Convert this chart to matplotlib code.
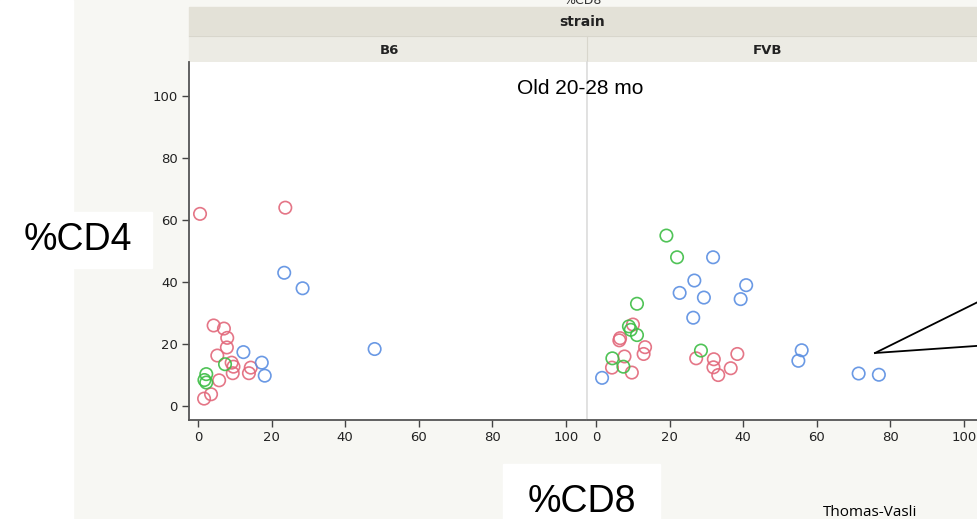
import matplotlib.pyplot as plt
from matplotlib.patches import Rectangle

W, H = 977, 519

# %CD8 (x) vs %CD4 (y), per strain, three groups each
b6_red_x = [0.5, 23.7, 4.2, 7.0, 7.9, 7.8, 5.2, 9.1, 9.6, 9.4, 14.3, 13.8, 5.7, 3.5, 1.6]
b6_red_y = [62.0, 64.0, 26.0, 25.0, 22.0, 18.9, 16.3, 14.0, 12.7, 10.6, 12.4, 10.6, 8.3, 3.8, 2.4]
b6_green_x = [7.3, 2.2, 1.7, 2.2]
b6_green_y = [13.5, 10.3, 8.4, 7.6]
b6_blue_x = [23.4, 28.4, 12.3, 17.3, 18.1, 48.0]
b6_blue_y = [43.0, 38.0, 17.4, 14.0, 9.8, 18.4]

fvb_red_x = [10.0, 6.5, 6.3, 13.3, 12.9, 7.7, 4.3, 9.7, 27.2, 32.0, 31.9, 33.2, 36.6, 38.4]
fvb_red_y = [26.3, 21.9, 21.2, 19.0, 16.8, 16.0, 12.4, 10.8, 15.4, 15.1, 12.5, 10.0, 12.2, 16.8]
fvb_green_x = [19.1, 22.0, 11.1, 8.9, 9.4, 11.1, 4.4, 7.4, 28.5]
fvb_green_y = [55.0, 48.0, 33.0, 25.7, 24.6, 22.9, 15.4, 12.7, 17.9]
fvb_blue_x = [31.8, 26.7, 22.7, 29.3, 40.8, 39.3, 26.4, 1.6, 55.9, 55.0, 71.4, 76.9]
fvb_blue_y = [48.0, 40.5, 36.5, 35.0, 39.0, 34.5, 28.5, 9.1, 18.0, 14.6, 10.5, 10.1]

ticks = [0, 20, 40, 60, 80, 100]
colors = {'red': '#e2677a', 'green': '#3dbd45', 'blue': '#5a8ee2'}

fig = plt.figure(figsize=(W / 100, H / 100), dpi=100)
fig.patch.set_facecolor('#f7f7f3')


def px_axes(z):
    # full-figure axes in pixel units, y pointing down
    a = fig.add_axes([0, 0, 1, 1], zorder=z)
    a.set_xlim(0, W)
    a.set_ylim(H, 0)
    a.axis('off')
    a.patch.set_alpha(0)
    return a


bg = px_axes(0)
bg.add_patch(Rectangle((0, 0), 73, H, color='white'))
bg.add_patch(Rectangle((0, 212), 152, 56, color='white'))
bg.add_patch(Rectangle((503, 464), 157, 60, color='white'))
# strip header
bg.add_patch(Rectangle((189, 7), W, 29, color='#e3e1d7'))
bg.add_patch(Rectangle((189, 36), W, 27, color='#ecebe4'))
bg.plot([189, W], [36, 36], color='#d8d6cc', lw=0.8)
bg.plot([587, 587], [36, 63], color='#d8d6cc', lw=0.8)
bg.text(582, 0, '%CD8', ha='center', va='center', fontsize=9, color='#333333')
bg.text(582, 22, 'strain', ha='center', va='center', fontsize=10,
        fontweight='bold', color='#222222')
bg.text(389, 50, 'B6', ha='center', va='center', fontsize=9.5,
        fontweight='semibold', color='#222222')
bg.text(768, 50, 'FVB', ha='center', va='center', fontsize=9.5,
        fontweight='semibold', color='#222222')
bg.text(78, 240, '%CD4', ha='center', va='center', fontsize=27, family='Liberation Sans')
bg.text(582, 502, '%CD8', ha='center', va='center', fontsize=27, family='Liberation Sans')
bg.text(823, 512, 'Thomas-Vasli', ha='left', va='center', fontsize=11, family='Open Sans')

panels = [
    ('B6', [(b6_red_x, b6_red_y, 'red'), (b6_green_x, b6_green_y, 'green'),
            (b6_blue_x, b6_blue_y, 'blue')]),
    ('FVB', [(fvb_red_x, fvb_red_y, 'red'), (fvb_green_x, fvb_green_y, 'green'),
             (fvb_blue_x, fvb_blue_y, 'blue')]),
]
lefts = [189, 587]
pw = 397
for i, (name, groups) in enumerate(panels):
    ax = fig.add_axes([lefts[i] / W, (H - 420) / H, pw / W, 358 / H], zorder=5)
    ax.set_facecolor('white')
    for xs, ys, c in groups:
        ax.scatter(xs, ys, s=80, facecolors='none', edgecolors=colors[c],
                   linewidths=1.2, alpha=0.9, clip_on=False)
    ax.set_xlim(-2.5, 105.5)
    ax.set_ylim(-4.5, 111)
    ax.set_xticks(ticks)
    ax.set_yticks(ticks)
    ax.tick_params(direction='out', length=5, width=1, color='#444444',
                   labelsize=9.5, labelcolor='#222222', pad=3)
    for s in ['top', 'right']:
        ax.spines[s].set_visible(False)
    ax.spines['bottom'].set_color('#555555')
    ax.spines['bottom'].set_linewidth(1.3)
    if i == 0:
        ax.spines['left'].set_color('#555555')
        ax.spines['left'].set_linewidth(1.3)
    else:
        ax.spines['left'].set_color('#dddddd')
        ax.spines['left'].set_linewidth(1.2)
        ax.tick_params(axis='y', left=False, labelleft=False)

fg = px_axes(10)
fg.text(580, 88, 'Old 20-28 mo', ha='center', va='center', fontsize=15,
        family='Liberation Sans')
fg.plot([875, 990], [353, 296], color='black', lw=1.3, clip_on=False)
fg.plot([875, 990], [353, 345], color='black', lw=1.3, clip_on=False)

fig.savefig('out.png', dpi=100, facecolor=fig.get_facecolor())
